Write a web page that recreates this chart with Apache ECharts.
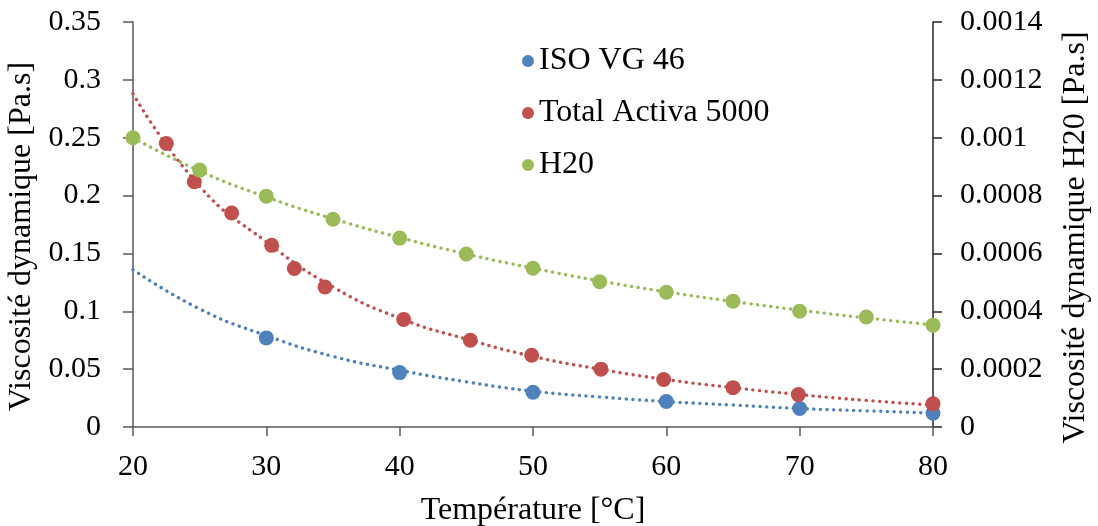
<!DOCTYPE html>
<html>
<head>
<meta charset="utf-8">
<script src="https://cdn.jsdelivr.net/npm/echarts@6/dist/echarts.min.js"></script>
<style>html,body{margin:0;padding:0;background:#fff}#c{width:1098px;height:526px}</style>
</head>
<body>
<div id="c"></div>
<script>
// Measured points
const isoX = [30, 40, 50, 60, 70, 80];
const isoY = [0.077, 0.047, 0.030, 0.022, 0.016, 0.012];
const totX = [22.5, 24.6, 27.4, 30.4, 32.1, 34.4, 40.3, 45.3, 49.9, 55.1, 59.8, 65, 69.9, 80];
const totY = [0.245, 0.212, 0.185, 0.157, 0.137, 0.121, 0.093, 0.075, 0.062, 0.050, 0.041, 0.034, 0.028, 0.020];
const h2oX = [20, 25, 30, 35, 40, 45, 50, 55, 60, 65, 70, 75, 80];
const h2oY = [0.00100, 0.000888, 0.000798, 0.000718, 0.000653, 0.000598, 0.000549, 0.000502, 0.000466, 0.000435, 0.000400, 0.000380, 0.000352];
// Trend lines
const trendX = [20, 25, 30, 35, 40, 45, 50, 55, 60, 65, 70, 75, 80];
const isoTrend = [0.136, 0.102, 0.079, 0.061, 0.049, 0.039, 0.031, 0.026, 0.022, 0.019, 0.016, 0.014, 0.012];
const totTrend = [0.288, 0.208, 0.160, 0.121, 0.094, 0.076, 0.061, 0.050, 0.041, 0.034, 0.028, 0.023, 0.019];
const h2oTrend = [0.00100, 0.000885, 0.000795, 0.000720, 0.000655, 0.000598, 0.000549, 0.000505, 0.000467, 0.000434, 0.000404, 0.000377, 0.000353];
const xTicks = {min: 20, max: 80, interval: 10};
const names = ['ISO VG 46', 'Total Activa 5000', 'H20'];
const colors = ['#4F81BD', '#C0504D', '#9BBB59'];

const zip = (a, b) => a.map((v, i) => [v, b[i]]);
const FONT = '"Liberation Serif", "Times New Roman", serif';
const axisCol = '#595959';

const dotted = c => ({color: c, width: 3.4, type: [0.1, 6.6], cap: 'round'});

const chart = echarts.init(document.getElementById('c'), null, {renderer: 'canvas'});
chart.setOption({
  animation: false,
  textStyle: {fontFamily: FONT, color: '#000'},
  grid: {left: 133, right: 165, top: 22, bottom: 99, containLabel: false, outerBoundsMode: 'none'},
  legend: {
    data: names,
    orient: 'vertical',
    left: 517, top: 40,
    itemWidth: 12, itemHeight: 12, itemGap: 20,
    icon: 'circle',
    textStyle: {fontFamily: FONT, fontSize: 32, color: '#000', lineHeight: 32, padding: [0, 0, 0, 0]}
  },
  xAxis: {
    type: 'value', min: xTicks.min, max: xTicks.max, interval: xTicks.interval,
    name: 'Température [°C]', nameLocation: 'middle', nameGap: 68,
    nameTextStyle: {fontFamily: FONT, fontSize: 32, color: '#000'},
    axisLine: {show: true, lineStyle: {color: axisCol, width: 1.5}},
    axisTick: {show: true, length: 9, inside: false, lineStyle: {color: axisCol, width: 1.5}},
    axisLabel: {fontFamily: FONT, fontSize: 30, color: '#000', margin: 25},
    splitLine: {show: false}
  },
  yAxis: [{
    type: 'value', min: 0, max: 0.35, interval: 0.05, position: 'left',
    name: 'Viscosité dynamique [Pa.s]', nameLocation: 'middle', nameGap: 86,
    nameTextStyle: {fontFamily: FONT, fontSize: 32, color: '#000', padding: [0, 24, 0, 0]},
    axisLine: {show: true, lineStyle: {color: axisCol, width: 1.5}},
    axisTick: {show: true, length: 10, lineStyle: {color: axisCol, width: 1.5}},
    axisLabel: {fontFamily: FONT, fontSize: 30, color: '#000', margin: 32},
    splitLine: {show: false}
  }, {
    type: 'value', min: 0, max: 0.0014, interval: 0.0002, position: 'right',
    name: 'Viscosité dynamique H20 [Pa.s]', nameLocation: 'middle', nameGap: 127, nameRotate: 90,
    nameTextStyle: {fontFamily: FONT, fontSize: 32, color: '#000', padding: [0, 26, 0, 0]},
    axisLine: {show: true, lineStyle: {color: '#262626', width: 1.5}},
    axisTick: {show: true, length: 9, lineStyle: {color: '#262626', width: 1.5}},
    axisLabel: {fontFamily: FONT, fontSize: 30, color: '#000', margin: 27},
    splitLine: {show: false}
  }],
  series: [
    {name: 'trendIso', type: 'line', smooth: true, symbol: 'none', yAxisIndex: 0, data: zip(trendX, isoTrend), lineStyle: dotted(colors[0]), z: 1, silent: true},
    {name: 'trendTot', type: 'line', smooth: true, symbol: 'none', yAxisIndex: 0, data: zip(trendX, totTrend), lineStyle: dotted(colors[1]), z: 1, silent: true},
    {name: 'trendH2o', type: 'line', smooth: true, symbol: 'none', yAxisIndex: 1, data: zip(trendX, h2oTrend), lineStyle: dotted(colors[2]), z: 1, silent: true},
    {name: names[0], type: 'scatter', yAxisIndex: 0, data: zip(isoX, isoY), symbolSize: 15, itemStyle: {color: colors[0], opacity: 1}, clip: false, z: 3},
    {name: names[1], type: 'scatter', yAxisIndex: 0, data: zip(totX, totY), symbolSize: 15, itemStyle: {color: colors[1], opacity: 1}, clip: false, z: 3},
    {name: names[2], type: 'scatter', yAxisIndex: 1, data: zip(h2oX, h2oY), symbolSize: 15, itemStyle: {color: colors[2], opacity: 1}, clip: false, z: 3}
  ]
});
</script>
</body>
</html>
